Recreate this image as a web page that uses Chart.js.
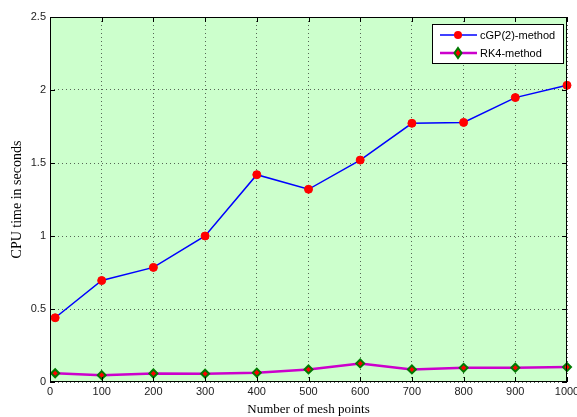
<!DOCTYPE html>
<html>
<head>
<meta charset="utf-8">
<script src="https://cdn.jsdelivr.net/npm/chart.js@4"></script>
<style>
  html, body { margin: 0; padding: 0; background: #fff; }
  #wrap { width: 577px; height: 417px; }
</style>
</head>
<body>
<div id="wrap"><canvas id="c" width="577" height="417"></canvas></div>
<script>
// Mesh sizes and CPU times (seconds)
const meshPoints = [10, 100, 200, 300, 400, 500, 600, 700, 800, 900, 1000];
const cgpTimes   = [0.44, 0.695, 0.785, 1.0, 1.42, 1.32, 1.52, 1.772, 1.778, 1.948, 2.032];
const rk4Times   = [0.06, 0.047, 0.058, 0.057, 0.064, 0.086, 0.127, 0.086, 0.097, 0.098, 0.102];
const xTicks = [0, 100, 200, 300, 400, 500, 600, 700, 800, 900, 1000];
const yTicks = [0, 0.5, 1, 1.5, 2, 2.5];

const toPoints = (xs, ys) => xs.map((x, i) => ({ x: x, y: ys[i] }));

const tickFont = { family: 'Liberation Sans, Arial, sans-serif', size: 11 };
const xTitleFont = { family: 'Liberation Serif, Times New Roman, serif', size: 13 };
const yTitleFont = { family: 'Liberation Serif, Times New Roman, serif', size: 14 };

// Axes background, boxed frame with inward ticks, and an inset legend
const framePlugin = {
  id: 'frame',
  beforeDraw(chart) {
    const { ctx, chartArea: a } = chart;
    ctx.save();
    ctx.fillStyle = '#ccffcc';
    ctx.fillRect(a.left, a.top, a.right - a.left, a.bottom - a.top);
    ctx.restore();
  },
  afterDraw(chart) {
    const { ctx, chartArea: a, scales } = chart;
    ctx.save();
    ctx.strokeStyle = '#000';
    ctx.lineWidth = 1;
    ctx.strokeRect(a.left + 0.5, a.top + 0.5, a.right - a.left - 1, a.bottom - a.top - 1);
    ctx.beginPath();
    const tl = 5;
    xTicks.forEach(v => {
      const x = Math.round(scales.x.getPixelForValue(v)) + 0.5;
      ctx.moveTo(x, a.bottom); ctx.lineTo(x, a.bottom - tl);
      ctx.moveTo(x, a.top); ctx.lineTo(x, a.top + tl);
    });
    yTicks.forEach(v => {
      const y = Math.round(scales.y.getPixelForValue(v)) + 0.5;
      ctx.moveTo(a.left, y); ctx.lineTo(a.left + tl, y);
      ctx.moveTo(a.right, y); ctx.lineTo(a.right - tl, y);
    });
    ctx.stroke();

    // legend box
    const bx = 432, by = 24, bw = 131, bh = 39;
    ctx.fillStyle = '#fff';
    ctx.fillRect(bx, by, bw, bh);
    ctx.strokeStyle = '#000';
    ctx.strokeRect(bx + 0.5, by + 0.5, bw, bh);
    chart.data.datasets.forEach((ds, i) => {
      const y = by + 11 + i * 18;
      ctx.strokeStyle = ds.borderColor;
      ctx.lineWidth = ds.borderWidth;
      ctx.beginPath();
      ctx.moveTo(bx + 8, y); ctx.lineTo(bx + 45, y);
      ctx.stroke();
      const mx = bx + 26;
      ctx.fillStyle = ds.pointBackgroundColor;
      ctx.strokeStyle = ds.pointBorderColor;
      ctx.lineWidth = ds.pointBorderWidth;
      ctx.beginPath();
      if (ds.pointStyle === 'rectRot') {
        const r = ds.pointRadius + 1;
        ctx.moveTo(mx, y - r); ctx.lineTo(mx + r * 0.7, y); ctx.lineTo(mx, y + r); ctx.lineTo(mx - r * 0.7, y); ctx.closePath();
        ctx.fill(); ctx.stroke();
      } else {
        ctx.arc(mx, y, ds.pointRadius, 0, Math.PI * 2);
        ctx.fill();
      }
      ctx.fillStyle = '#000';
      ctx.font = '11px Liberation Sans, Arial, sans-serif';
      ctx.textBaseline = 'middle';
      ctx.textAlign = 'left';
      ctx.fillText(ds.label, bx + 48, y + 1);
    });
    ctx.restore();
  }
};

new Chart(document.getElementById('c'), {
  type: 'line',
  data: {
    datasets: [
      {
        label: 'cGP(2)-method',
        data: toPoints(meshPoints, cgpTimes),
        borderColor: '#0000ff',
        borderWidth: 1.5,
        pointStyle: 'circle',
        pointRadius: 4,
        pointBackgroundColor: '#ff0000',
        pointBorderColor: '#ff0000',
        pointBorderWidth: 1,
        tension: 0
      },
      {
        label: 'RK4-method',
        data: toPoints(meshPoints, rk4Times),
        borderColor: '#cc00cc',
        borderWidth: 2.5,
        pointStyle: 'rectRot',
        pointRadius: 4,
        pointBackgroundColor: '#ff0000',
        pointBorderColor: '#007a00',
        pointBorderWidth: 2,
        tension: 0
      }
    ]
  },
  options: {
    responsive: false,
    animation: false,
    clip: false,
    layout: { padding: { left: 0, right: 10, top: 17, bottom: 0 } },
    plugins: { legend: { display: false }, tooltip: { enabled: false } },
    scales: {
      x: {
        type: 'linear',
        min: 0, max: 1000,
        afterFit(s) { s.height = 35; s.paddingLeft = 0; s.paddingRight = 0; },
        afterBuildTicks(s) { s.ticks = xTicks.map(v => ({ value: v })); },
        ticks: { color: '#222', font: tickFont, padding: 3, maxRotation: 0, autoSkip: false,
                 callback: v => String(v) },
        grid: { color: '#556655', lineWidth: 1, drawTicks: false },
        border: { display: false, dash: [1, 3] },
        title: { display: true, text: 'Number of mesh points', color: '#000', font: xTitleFont, padding: { top: 0, bottom: 0 } }
      },
      y: {
        type: 'linear',
        min: 0, max: 2.5,
        afterFit(s) { s.width = 50; s.paddingTop = 0; s.paddingBottom = 0; },
        afterBuildTicks(s) { s.ticks = yTicks.map(v => ({ value: v })); },
        ticks: { color: '#222', font: tickFont, padding: 4, callback: v => String(v) },
        grid: { color: '#556655', lineWidth: 1, drawTicks: false },
        border: { display: false, dash: [1, 3] },
        title: { display: true, text: 'CPU time in seconds', color: '#000', font: yTitleFont, padding: { top: 9, bottom: 0 } }
      }
    }
  },
  plugins: [framePlugin]
});
</script>
</body>
</html>
